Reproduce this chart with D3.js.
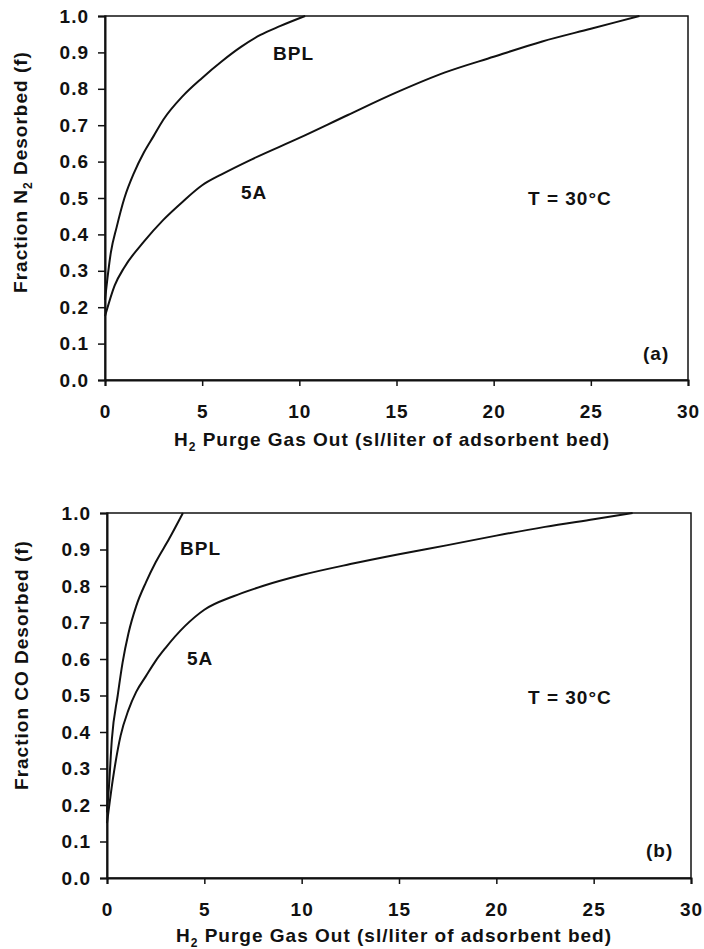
<!DOCTYPE html>
<html>
<head>
<meta charset="utf-8">
<script src="https://cdn.jsdelivr.net/npm/d3@7"></script>
<style>
  html, body { margin: 0; padding: 0; background: #fff; }
  svg text { font-family: "Liberation Sans", Arial, sans-serif; font-weight: bold; fill: #111; letter-spacing: 1px; }
</style>
</head>
<body>
<svg id="chart" width="704" height="949"></svg>
<script>
// Desorption curves: [purge gas out (sl/liter of bed), fraction desorbed]
const n2BPL = [[0,0.22],[0.3,0.35],[0.6,0.42],[1,0.5],[1.5,0.57],[2,0.625],[2.5,0.67],[3,0.715],[4,0.78],[5,0.83],[6,0.875],[7,0.915],[8,0.948],[9,0.972],[10.3,1.0]];
const n25A  = [[0,0.175],[0.5,0.26],[1,0.31],[2,0.38],[3,0.44],[4,0.49],[5,0.535],[6,0.565],[7.5,0.605],[10,0.665],[12.5,0.728],[15,0.79],[17.5,0.845],[20,0.888],[22.5,0.93],[25,0.965],[27.5,1.0]];
const coBPL = [[0,0.18],[0.1,0.25],[0.25,0.38],[0.55,0.5],[0.8,0.59],[1.1,0.67],[1.5,0.745],[2,0.81],[2.5,0.865],[3.2,0.93],[3.9,1.0]];
const co5A  = [[0,0.15],[0.3,0.27],[0.7,0.39],[1.1,0.46],[1.5,0.51],[2,0.553],[2.5,0.595],[3,0.63],[4,0.69],[5,0.735],[6.5,0.772],[8,0.8],[10,0.83],[12.5,0.86],[15,0.887],[17.5,0.912],[20,0.938],[22.5,0.962],[25,0.983],[27,1.0]];

const xTicks = [0, 5, 10, 15, 20, 25, 30];
const yTicks = [0, 0.1, 0.2, 0.3, 0.4, 0.5, 0.6, 0.7, 0.8, 0.9, 1.0];

const FS = 19;
const svg = d3.select("#chart");

function drawPanel(p) {
  const x = d3.scaleLinear().domain([0, 30]).range([p.left, p.right]);
  const y = d3.scaleLinear().domain([0, 1]).range([p.bottom, p.top]);
  const g = svg.append("g");

  // frame
  g.append("rect")
    .attr("x", p.left).attr("y", p.top)
    .attr("width", p.right - p.left).attr("height", p.bottom - p.top)
    .attr("fill", "none").attr("stroke", "#111").attr("stroke-width", 1.5);

  const xAxis = d3.axisBottom(x).tickValues(xTicks).tickSize(6).tickPadding(19).tickFormat(d3.format("d"));
  const yAxis = d3.axisLeft(y).tickValues(yTicks).tickSize(7).tickPadding(9).tickFormat(d3.format(".1f"));

  const gx = g.append("g").attr("transform", `translate(0,${p.bottom})`).call(xAxis);
  const gy = g.append("g").attr("transform", `translate(${p.left},0)`).call(yAxis);
  [gx, gy].forEach(a => {
    a.attr("font-size", null).attr("font-family", null);
    a.select(".domain").attr("stroke", "#111").attr("stroke-width", 2);
    a.selectAll(".tick line").attr("stroke", "#111").attr("stroke-width", 1.5);
    a.selectAll(".tick text").attr("font-size", FS).attr("fill", "#111");
  });

  const line = d3.line().x(d => x(d[0])).y(d => y(d[1])).curve(d3.curveMonotoneX);
  [p.bpl, p.a5].forEach(s => {
    g.append("path").datum(s).attr("d", line)
      .attr("fill", "none").attr("stroke", "#111").attr("stroke-width", 2);
  });

  // x-axis title with subscript
  const xt = g.append("text").attr("x", p.xTitle[0]).attr("y", p.xTitle[1])
    .attr("text-anchor", "middle").attr("font-size", FS);
  xt.append("tspan").text("H");
  xt.append("tspan").text("2").attr("font-size", 12).attr("dy", 5);
  xt.append("tspan").text(" Purge Gas Out (sl/liter of adsorbent bed)").attr("dy", -5);

  // y-axis title
  const yt = g.append("text")
    .attr("transform", `translate(${p.yTitle[0]},${p.yTitle[1]}) rotate(-90)`)
    .attr("text-anchor", "middle").attr("font-size", FS);
  p.yTitleText(yt);

  g.append("text").attr("x", p.bplLabel[0]).attr("y", p.bplLabel[1]).attr("font-size", FS).text("BPL");
  g.append("text").attr("x", p.a5Label[0]).attr("y", p.a5Label[1]).attr("font-size", FS).text("5A");
  g.append("text").attr("x", p.tLabel[0]).attr("y", p.tLabel[1]).attr("font-size", FS).text("T = 30°C");
  g.append("text").attr("x", p.tag[0]).attr("y", p.tag[1]).attr("font-size", FS).text(p.tagText);
}

drawPanel({
  left: 105, right: 688, top: 16, bottom: 380,
  bpl: n2BPL, a5: n25A,
  xTitle: [392, 446], yTitle: [27, 172],
  yTitleText: t => {
    t.append("tspan").text("Fraction N");
    t.append("tspan").text("2").attr("font-size", 12).attr("dy", 5);
    t.append("tspan").text(" Desorbed (f)").attr("dy", -5);
  },
  bplLabel: [273, 60], a5Label: [241, 199], tLabel: [528, 205], tag: [643, 360], tagText: "(a)"
});

drawPanel({
  left: 107, right: 691, top: 513, bottom: 878,
  bpl: coBPL, a5: co5A,
  xTitle: [394, 942], yTitle: [28, 665],
  yTitleText: t => { t.text("Fraction CO Desorbed (f)"); },
  bplLabel: [180, 555], a5Label: [187, 665], tLabel: [528, 704], tag: [646, 857], tagText: "(b)"
});
</script>
</body>
</html>
